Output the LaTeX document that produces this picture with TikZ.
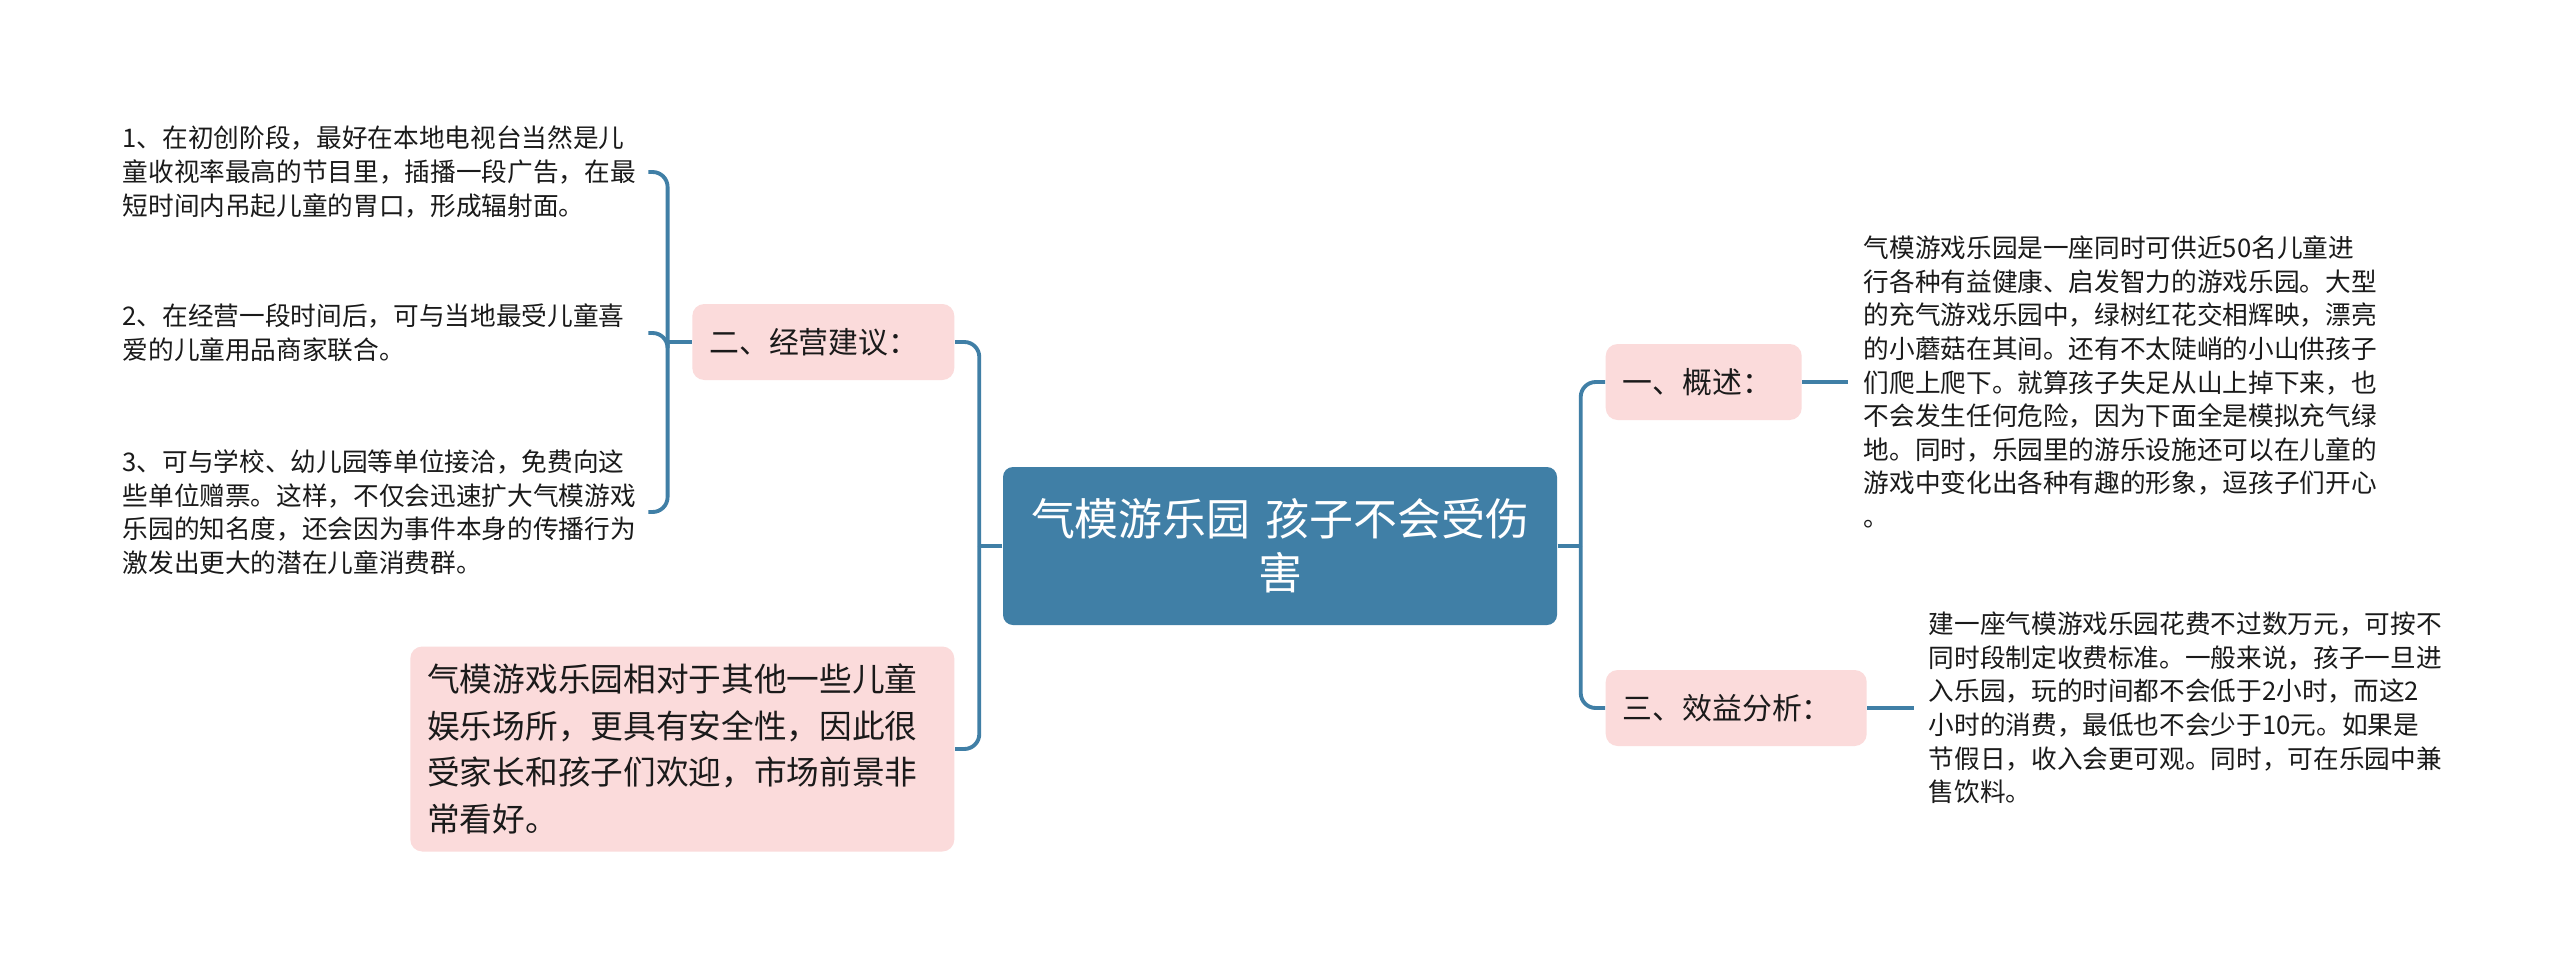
\documentclass[tikz,border=0pt]{standalone}
\usepackage{fontspec}
\usepackage{xcolor}
\usepackage{tikz}
\usetikzlibrary{calc}

\newfontfamily\cjk{Noto Sans CJK SC}
\definecolor{mapblue}{RGB}{64,127,166}
\definecolor{mappink}{RGB}{251,219,219}
\definecolor{maptext}{RGB}{26,26,26}

\begin{document}
\begin{tikzpicture}[
        link/.style={draw=mapblue, line width=1.1pt, rounded corners=0.15cm},
        rootbox/.style={rectangle, rounded corners=0.1cm, fill=mapblue, text=white, align=center, text width=5.0cm, inner xsep=0.27cm, minimum height=1.58cm, font=\cjk\fontsize{12.5}{15.4}\selectfont},
        branchbox/.style={rectangle, rounded corners=0.12cm, fill=mappink, text=maptext, align=left, inner xsep=0.17cm, minimum height=0.76cm, font=\cjk\fontsize{8.5}{10}\selectfont},
        notebox/.style={rectangle, rounded corners=0.12cm, fill=mappink, text=maptext, align=left, text width=5.10cm, inner xsep=0.17cm, minimum height=2.05cm, font=\cjk\fontsize{9.3}{13.2}\selectfont},
        leaftext/.style={text=maptext, align=left, inner xsep=0.1cm, font=\cjk\fontsize{7.3}{9.55}\selectfont}
    ]

        \path [use as bounding box, fill=white] (0,0) rectangle (25.60,9.63);

        %% Root
        \node (root) [rootbox] at (12.80,4.17) {气模游乐园 孩子不会受伤\\害};

        %% Main branches
        \node (b2) [branchbox, anchor=east, text width=2.28cm] at (9.55,6.21) {二、经营建议：};
        \node (note) [notebox, anchor=east] at (9.55,2.14) {气模游戏乐园相对于其他一些儿童\\娱乐场所，更具有安全性，因此很\\受家长和孩子们欢迎，市场前景非\\常看好。};
        \node (b1) [branchbox, anchor=west, text width=1.62cm] at (16.05,5.81) {一、概述：};
        \node (b3) [branchbox, anchor=west, text width=2.27cm] at (16.05,2.55) {三、效益分析：};

        %% Details
        \node (i1) [leaftext, anchor=west, text width=5.15cm] at (1.12,7.91) {1、在初创阶段，最好在本地电视台当然是儿\\童收视率最高的节目里，插播一段广告，在最\\短时间内吊起儿童的胃口，形成辐射面。};
        \node (i2) [leaftext, anchor=west, text width=5.15cm] at (1.12,6.30) {2、在经营一段时间后，可与当地最受儿童喜\\爱的儿童用品商家联合。};
        \node (i3) [leaftext, anchor=west, text width=5.15cm] at (1.12,4.51) {3、可与学校、幼儿园等单位接洽，免费向这\\些单位赠票。这样，不仅会迅速扩大气模游戏\\乐园的知名度，还会因为事件本身的传播行为\\激发出更大的潜在儿童消费群。};
        \node (t1) [leaftext, anchor=west, inner xsep=0.15cm, text width=5.3cm] at (18.48,5.81) {气模游戏乐园是一座同时可供近50名儿童进\\行各种有益健康、启发智力的游戏乐园。大型\\的充气游戏乐园中，绿树红花交相辉映，漂亮\\的小蘑菇在其间。还有不太陡峭的小山供孩子\\们爬上爬下。就算孩子失足从山上掉下来，也\\不会发生任何危险，因为下面全是模拟充气绿\\地。同时，乐园里的游乐设施还可以在儿童的\\游戏中变化出各种有趣的形象，逗孩子们开心\\。};
        \node (t3) [leaftext, anchor=west, inner xsep=0.14cm, text width=5.3cm] at (19.14,2.55) {建一座气模游戏乐园花费不过数万元，可按不\\同时段制定收费标准。一般来说，孩子一旦进\\入乐园，玩的时间都不会低于2小时，而这2\\小时的消费，最低也不会少于10元。如果是\\节假日，收入会更可观。同时，可在乐园中兼\\售饮料。};

        %% Junctions
        \coordinate (lj) at ($(root.west)+(-0.23,0)$);
        \coordinate (rj) at ($(root.east)+(0.23,0)$);
        \coordinate (sj) at ($(b2.west)+(-0.24,0)$);

        %% Links
        \draw [link] (root.west) -- (lj);
        \draw [link] (lj) |- (b2.east);
        \draw [link] (lj) |- (note.east);
        \draw [link] (root.east) -- (rj);
        \draw [link] (rj) |- (b1.west);
        \draw [link] (rj) |- (b3.west);
        \draw [link] (b2.west) -- (sj);
        \draw [link] (sj) |- (i1.east);
        \draw [link] (sj) |- (i2.east);
        \draw [link] (sj) |- (i3.east);
        \draw [link] (b1.east) -- (t1.west);
        \draw [link] (b3.east) -- (t3.west);

    \end{tikzpicture}
\end{document}
